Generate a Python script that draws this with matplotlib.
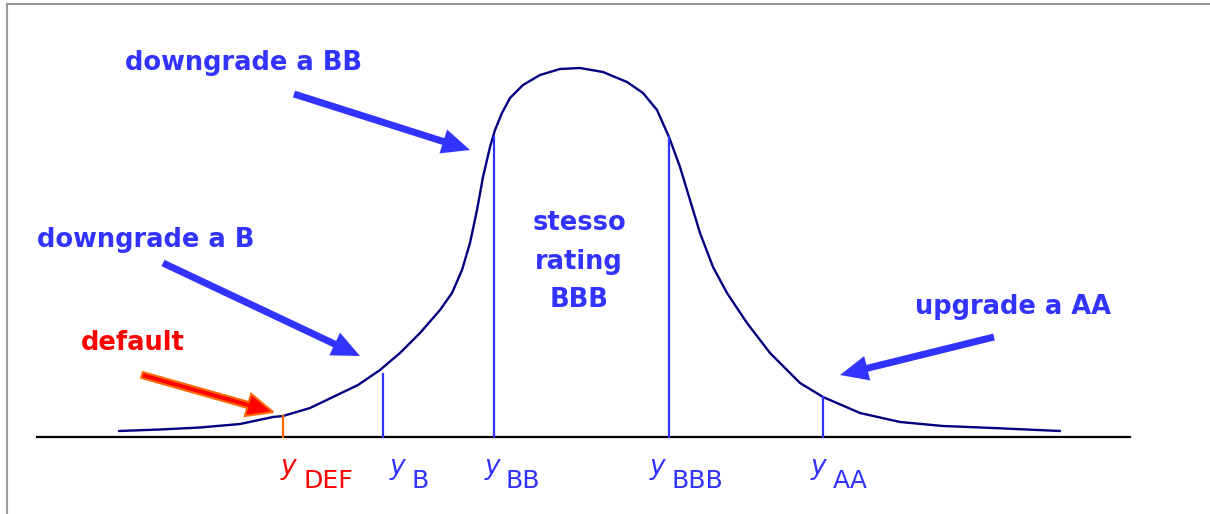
import matplotlib
matplotlib.use('Agg')
import matplotlib.pyplot as plt

# Curve: x position and height above the baseline
curve_x = [119, 160, 200, 240, 273, 283, 310, 333, 358, 380, 400, 420, 440, 452,
           462, 470, 477, 483, 490, 495, 502, 510, 523, 540, 560, 580, 603, 627,
           643, 657, 669, 680, 690, 700, 713, 727, 747, 770, 800, 823, 860, 900,
           943, 993, 1060]
curve_h = [6, 7.5, 9.5, 13, 20, 21, 29, 40, 52, 67, 84, 104, 127, 144,
           167, 194, 227, 260, 290, 307, 324, 339, 352, 362, 368, 369, 365, 355,
           344, 327, 300, 270, 237, 204, 170, 144, 114, 84, 54, 40, 24, 15,
           11, 9, 6]

# Rating thresholds
thresholds = ['DEF', 'B', 'BB', 'BBB', 'AA']
threshold_x = [283, 383, 494, 669, 823]
threshold_h = [21, 63, 300, 300, 40]

BLUE = '#3333FF'
NAVY = '#000080'
RED = '#FF0000'
ORANGE = '#FF6600'
threshold_colors = [ORANGE, BLUE, BLUE, BLUE, BLUE]
label_colors = [RED, BLUE, BLUE, BLUE, BLUE]
y_label_x = [288, 397, 492, 657, 818]
sub_label_x = [303, 412, 506, 671, 833]

fig = plt.figure(figsize=(12.1, 5.14), dpi=100)
ax = fig.add_axes([0, 0, 1, 1])
ax.set_xlim(0, 1210)
ax.set_ylim(-77, 437)
ax.axis('off')

font = 'DejaVu Sans'
FS = 18.5

# frame lines at top and left (gray)
ax.plot([7, 7], [-77, 433], color='#999999', lw=1.5, clip_on=False)
ax.plot([7, 1210], [433, 433], color='#999999', lw=1.5, clip_on=False)

# baseline and curve
ax.plot([37, 1130], [0, 0], color='black', lw=1.6)
ax.plot(curve_x, curve_h, color=NAVY, lw=1.7, solid_capstyle='round',
        solid_joinstyle='round')

# threshold lines + labels
for name, x, h, c, lc, yx, sx in zip(thresholds, threshold_x, threshold_h,
                                     threshold_colors, label_colors,
                                     y_label_x, sub_label_x):
    ax.plot([x, x], [0, h], color=c, lw=1.6)
    ax.text(yx, -30, 'y', color=lc, fontsize=19, style='italic',
            family=font, ha='center', va='center')
    ax.text(sx, -44, name, color=lc, fontsize=18, family=font,
            ha='left', va='center')

# annotations
ax.text(125, 374, 'downgrade a BB', color=BLUE, fontsize=FS,
        fontweight='bold', family=font, ha='left', va='center')
ax.text(37, 197, 'downgrade a B', color=BLUE, fontsize=FS,
        fontweight='bold', family=font, ha='left', va='center')
ax.text(81, 94, 'default', color=RED, fontsize=FS,
        fontweight='bold', family=font, ha='left', va='center')
ax.text(1013, 130, 'upgrade a AA', color=BLUE, fontsize=FS,
        fontweight='bold', family=font, ha='center', va='center')
for txt, h in zip(['stesso', 'rating', 'BBB'], [214, 175, 137]):
    ax.text(579, h, txt, color=BLUE, fontsize=FS, fontweight='bold',
            family=font, ha='center', va='center')

# arrows (start, tip)
arrows = [((294, 343), (470, 287)),
          ((163, 174), (360, 81)),
          ((994, 100), (840, 62))]
for (x0, y0), (x1, y1) in arrows:
    ax.arrow(x0, y0, x1 - x0, y1 - y0, width=7, head_width=25,
             head_length=28, length_includes_head=True, color=BLUE, lw=0)

ax.arrow(142, 62, 273 - 142, 25 - 62, width=6, head_width=23,
         head_length=26, length_includes_head=True, facecolor=RED,
         edgecolor=ORANGE, lw=1.5)

fig.savefig('out.png', dpi=100)
